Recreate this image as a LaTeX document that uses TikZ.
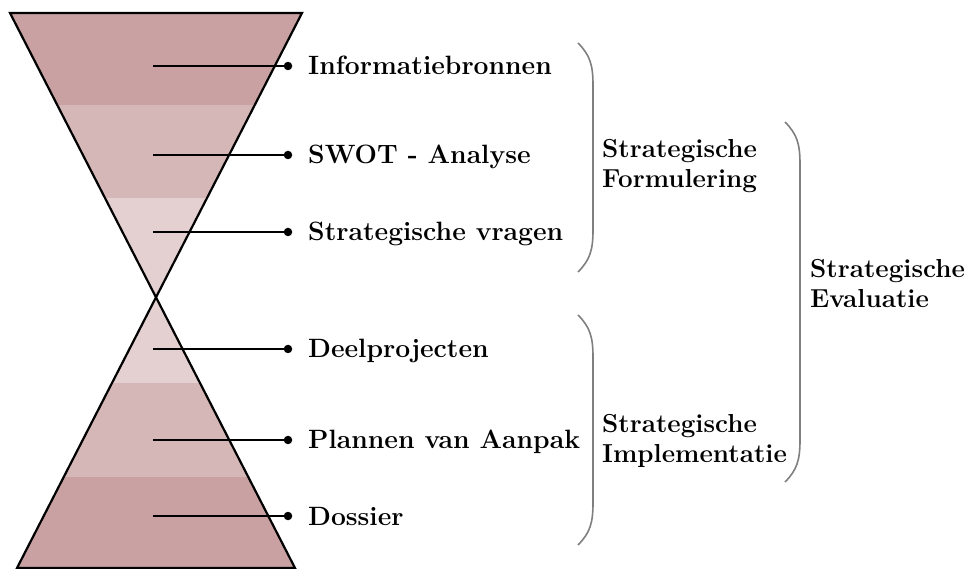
\documentclass[tikz,border=0pt]{standalone}
\usepackage{tikz}
\definecolor{bandD}{HTML}{C9A1A2}
\definecolor{bandM}{HTML}{D6B7B8}
\definecolor{bandL}{HTML}{E5D0D1}
\definecolor{paren}{HTML}{7F7F7F}
\begin{document}
\begin{tikzpicture}[x=1pt,y=-1pt,
  edge/.style={line width=2.2pt,line join=miter},
  pointer/.style={line width=1.3pt},
  dotnode/.style={circle,fill=black,inner sep=0pt,minimum size=8.5pt},
  item/.style={anchor=base west,inner sep=0pt,font=\fontsize{26.5}{30}\selectfont\bfseries},
  group/.style={anchor=west,inner sep=0pt,align=left,font=\fontsize{26}{30}\selectfont\bfseries},
  parenline/.style={draw=paren,line width=1.6pt}]
\useasboundingbox (0,0) rectangle (970,569);
% hourglass
\coordinate (tl) at (10,13);
\coordinate (tr) at (302,13);
\coordinate (apex) at (156,295);
\coordinate (bl) at (17,568);
\coordinate (br) at (295,568);
\begin{scope}
  \clip (tl) -- (tr) -- (apex) -- cycle;
  \fill[bandD] (0,0) rectangle (320,105);
  \fill[bandM] (0,105) rectangle (320,198);
  \fill[bandL] (0,198) rectangle (320,300);
\end{scope}
\begin{scope}
  \clip (apex) -- (br) -- (bl) -- cycle;
  \fill[bandL] (0,290) rectangle (320,383);
  \fill[bandM] (0,383) rectangle (320,477);
  \fill[bandD] (0,477) rectangle (320,569);
\end{scope}
\draw[edge] (tl) -- (tr) -- (bl) -- (br) -- cycle;
% items
\foreach \n/\yy/\txt in {1/66/Informatiebronnen,2/155/SWOT - Analyse,3/232/Strategische vragen,4/349/Deelprojecten,5/440/Plannen van Aanpak,6/516/Dossier}{
  \coordinate (s\n) at (153,\yy);
  \node[dotnode] (d\n) at (288,\yy) {};
  \draw[pointer] (s\n) -- (d\n.center);
  \node[item] (t\n) at (308,\yy+9) {\txt};
}
% parentheses
\coordinate (p1a) at (578,43);
\coordinate (p1b) at (578,272);
\draw[parenline] (p1a) .. controls (590,55) and (593,65) .. (593,85) -- (593,230) .. controls (593,250) and (590,260) .. (p1b);
\coordinate (p2a) at (578,315);
\coordinate (p2b) at (578,545);
\draw[parenline] (p2a) .. controls (590,327) and (593,337) .. (593,357) -- (593,503) .. controls (593,523) and (590,533) .. (p2b);
\coordinate (p3a) at (785,122);
\coordinate (p3b) at (785,482);
\draw[parenline] (p3a) .. controls (797,134) and (800,144) .. (800,164) -- (800,440) .. controls (800,460) and (797,470) .. (p3b);
% group labels
\node[group] (g1) at (602,166) {Strategische\\Formulering};
\node[group] (g2) at (602,441) {Strategische\\Implementatie};
\node[group] (g3) at (810,284) {Strategische\\Evaluatie};
\end{tikzpicture}
\end{document}
